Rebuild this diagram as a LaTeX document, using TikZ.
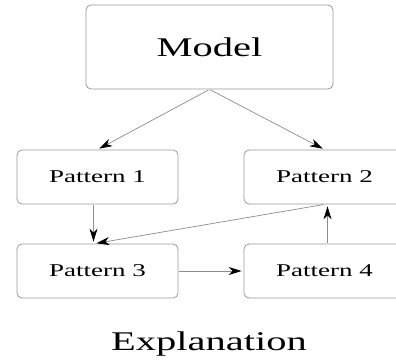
\documentclass[tikz,border=0pt]{standalone}
\usepackage{fontspec}
\setmainfont[FakeStretch=1.5]{Liberation Serif}
\usetikzlibrary{arrows.meta}

\begin{document}
\begin{tikzpicture}[x=1pt, y=-1pt,
    box/.style = {draw=black!40, line width=0.8pt, rounded corners=5pt, inner sep=0pt},
    pat/.style = {box, minimum width=161pt, minimum height=54pt, font=\fontsize{18}{20}\selectfont},
    link/.style = {draw=black!45, line width=0.7pt, shorten >=2pt, shorten <=1pt,
                   -{Stealth[black, length=13pt, width=8pt, inset=4pt]}}]
    \useasboundingbox (0,0) rectangle (396,362);
    \begin{scope}
    \clip (0,0) rectangle (396,362);

    \node[box, minimum width=247pt, minimum height=84pt,
          font=\fontsize{27}{30}\selectfont] (model) at (209.5,47) {Model};

    \node[pat] (p1) at (97.5,177) {Pattern 1};
    \node[pat] (p2) at (324.5,177) {Pattern 2};
    \node[pat] (p3) at (97.5,271) {Pattern 3};
    \node[pat] (p4) at (324.5,271) {Pattern 4};

    \node[font=\fontsize{27}{30}\selectfont] (expl) at (209,344) {Explanation};

    \draw[link] (model.south) -- (p1.north);
    \draw[link] (model.south) -- (p2.north);
    \draw[link] ([xshift=-4pt]p1.south) -- ([xshift=-4pt]p3.north);
    \draw[link] (p2.south) -- ([xshift=-3pt]p3.north);
    \draw[link] ([xshift=3pt]p4.north) -- ([xshift=3pt]p2.south);
    \draw[link] (p3.east) -- (p4.west);
    \end{scope}
\end{tikzpicture}
\end{document}
